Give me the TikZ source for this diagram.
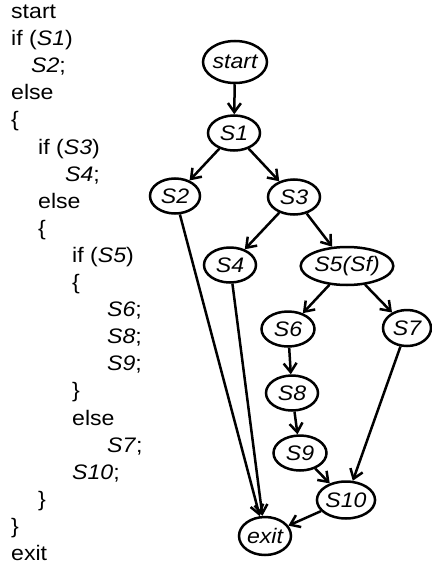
\documentclass[tikz,border=0pt]{standalone}
\usepackage{fontspec}
\setmainfont{Liberation Sans}[FakeStretch=1.1]
\usetikzlibrary{shapes.geometric,arrows.meta}
\begin{document}
\begin{tikzpicture}[x=1pt,y=-1pt,
  code/.style={anchor=west,inner sep=0pt,text height=15pt,text depth=4pt,font=\fontsize{21}{21}\selectfont},
  st/.style={ellipse,draw,line width=2.5pt,inner sep=0pt,minimum width=52pt,minimum height=35pt,font=\fontsize{21}{21}\selectfont\itshape},
  edge/.style={line width=2.5pt,-{Straight Barb[length=9pt,width=13pt]}}]
\useasboundingbox (0,0) rectangle (431,570);
% listing
\node[code] (l1)  at (11,13.0)  {start};
\node[code] (l2)  at (11,40.1)  {if (\textit{S1})};
\node[code] (l3)  at (31,67.2)  {\textit{S2};};
\node[code] (l4)  at (11,94.3)  {else};
\node[code] (l5)  at (11,121.4) {\{};
\node[code] (l6)  at (38,148.5) {if (\textit{S3})};
\node[code] (l7)  at (65,175.6) {\textit{S4};};
\node[code] (l8)  at (38,202.7) {else};
\node[code] (l9)  at (38,229.8) {\{};
\node[code] (l10) at (72,256.9) {if (\textit{S5})};
\node[code] (l11) at (72,284.0) {\{};
\node[code] (l12) at (107,311.1) {\textit{S6};};
\node[code] (l13) at (107,338.2) {\textit{S8};};
\node[code] (l14) at (107,365.3) {\textit{S9};};
\node[code] (l15) at (72,392.4) {\}};
\node[code] (l16) at (72,419.5) {else};
\node[code] (l17) at (107,446.6) {\textit{S7};};
\node[code] (l18) at (72,473.7) {\textit{S10};};
\node[code] (l19) at (38,500.8) {\}};
\node[code] (l20) at (11,527.9) {\}};
\node[code] (l21) at (11,555.0) {exit};
% graph
\node[st,minimum width=64pt,minimum height=42pt] (start) at (235,62) {start};
\node[st] (s1) at (234,133) {S1};
\node[st,minimum width=50pt] (s2) at (175,196) {S2};
\node[st] (s3) at (294,197) {S3};
\node[st] (s4) at (230,265) {S4};
\node[st,minimum width=91pt,minimum height=38pt] (s5) at (347,266) {S5(Sf)};
\node[st,minimum width=53pt] (s6) at (288,329) {S6};
\node[st,minimum width=48pt,minimum height=36pt] (s7) at (407,328) {S7};
\node[st] (s8) at (292,393) {S8};
\node[st,minimum width=53pt] (s9) at (300,453) {S9};
\node[st,minimum width=53pt,minimum height=37pt] (s10) at (346,500) {S10};
\node[st,minimum height=38pt] (exit) at (265,536) {exit};
\draw[edge] (start) -- (s1);
\draw[edge] (s1) -- (s2);
\draw[edge] (s1) -- (s3);
\draw[edge] (s2) -- (exit);
\draw[edge] (s3) -- (s4);
\draw[edge] (s3) -- (s5);
\draw[edge] (s4) -- (exit);
\draw[edge] (s5) -- (s6);
\draw[edge] (s5) -- (s7);
\draw[edge] (s6) -- (s8);
\draw[edge] (s8) -- (s9);
\draw[edge] (s9) -- (s10);
\draw[edge] (s7) -- (s10);
\draw[edge] (s10) -- (exit);
\end{tikzpicture}
\end{document}
